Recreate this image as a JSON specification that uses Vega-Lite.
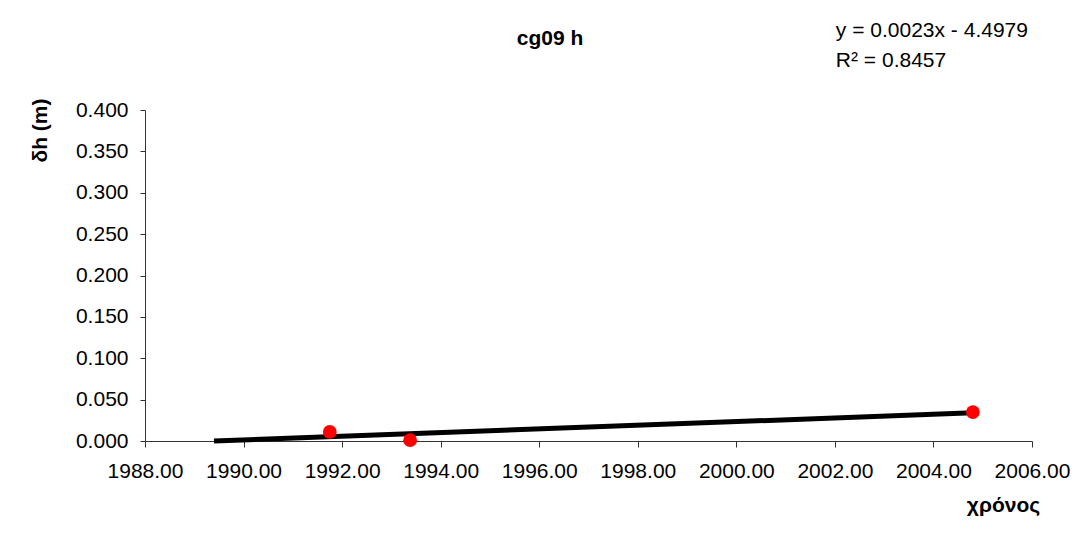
{
  "$schema": "https://vega.github.io/schema/vega-lite/v6.json",
  "autosize": {"type": "none"},
  "width": 887,
  "height": 331,
  "padding": {"left": 145, "top": 110, "right": 50, "bottom": 108},
  "background": "white",
  "config": {
    "font": "Liberation Sans",
    "view": {"stroke": null},
    "axis": {"grid": false, "domainColor": "#333", "tickColor": "#333", "labelColor": "#000", "labelFont": "Liberation Sans", "labelFontSize": 21, "titleFont": "Liberation Sans", "titleFontSize": 21, "titleFontWeight": "bold", "titleColor": "#000"}
  },
  "datasets": {
    "points": [
      {"year": 1991.75, "dh": 0.011},
      {"year": 1993.38, "dh": 0.001},
      {"year": 2004.8, "dh": 0.035}
    ],
    "trend": [
      {"year": 1989.4, "dh": 0.0},
      {"year": 2004.8, "dh": 0.034}
    ]
  },
  "layer": [
    {
      "data": {"name": "trend"},
      "mark": {"type": "line", "color": "#000", "strokeWidth": 5, "clip": false},
      "encoding": {
        "x": {"field": "year", "type": "quantitative", "scale": {"domain": [1988, 2006], "nice": false, "zero": false},
          "axis": {"values": [1988, 1990, 1992, 1994, 1996, 1998, 2000, 2002, 2004, 2006], "format": ".2f", "tickSize": 6, "labelPadding": 13, "title": "χρόνος", "titleX": 858, "titleY": 70, "titleAlign": "center", "titleBaseline": "alphabetic", "labelFlush": false}},
        "y": {"field": "dh", "type": "quantitative", "scale": {"domain": [0, 0.4], "nice": false},
          "axis": {"values": [0, 0.05, 0.1, 0.15, 0.2, 0.25, 0.3, 0.35, 0.4], "format": ".3f", "tickSize": 5, "labelPadding": 12, "title": "δh (m)", "titleX": -105, "titleY": 20, "titleAngle": -90, "titleAlign": "center", "titleBaseline": "middle"}}
      }
    },
    {
      "data": {"name": "points"},
      "mark": {"type": "point", "filled": true, "color": "#ff0000", "opacity": 1, "size": 190, "clip": false},
      "encoding": {
        "x": {"field": "year", "type": "quantitative"},
        "y": {"field": "dh", "type": "quantitative"}
      }
    },
    {
      "data": {"values": [{"label": "y = 0.0023x - 4.4979", "ty": 0.488}, {"label": "R² = 0.8457", "ty": 0.452}]},
      "mark": {"type": "text", "align": "left", "baseline": "alphabetic", "fontSize": 21, "font": "Liberation Sans", "color": "#000", "clip": false},
      "encoding": {
        "x": {"datum": 2002.02, "type": "quantitative"},
        "y": {"field": "ty", "type": "quantitative"},
        "text": {"field": "label"}
      }
    },
    {
      "data": {"values": [{"label": "cg09 h"}]},
      "mark": {"type": "text", "align": "center", "baseline": "alphabetic", "fontSize": 21, "fontWeight": "bold", "font": "Liberation Sans", "color": "#000", "clip": false},
      "encoding": {
        "x": {"datum": 1996.22, "type": "quantitative"},
        "y": {"datum": 0.4786, "type": "quantitative"},
        "text": {"field": "label"}
      }
    }
  ]
}
